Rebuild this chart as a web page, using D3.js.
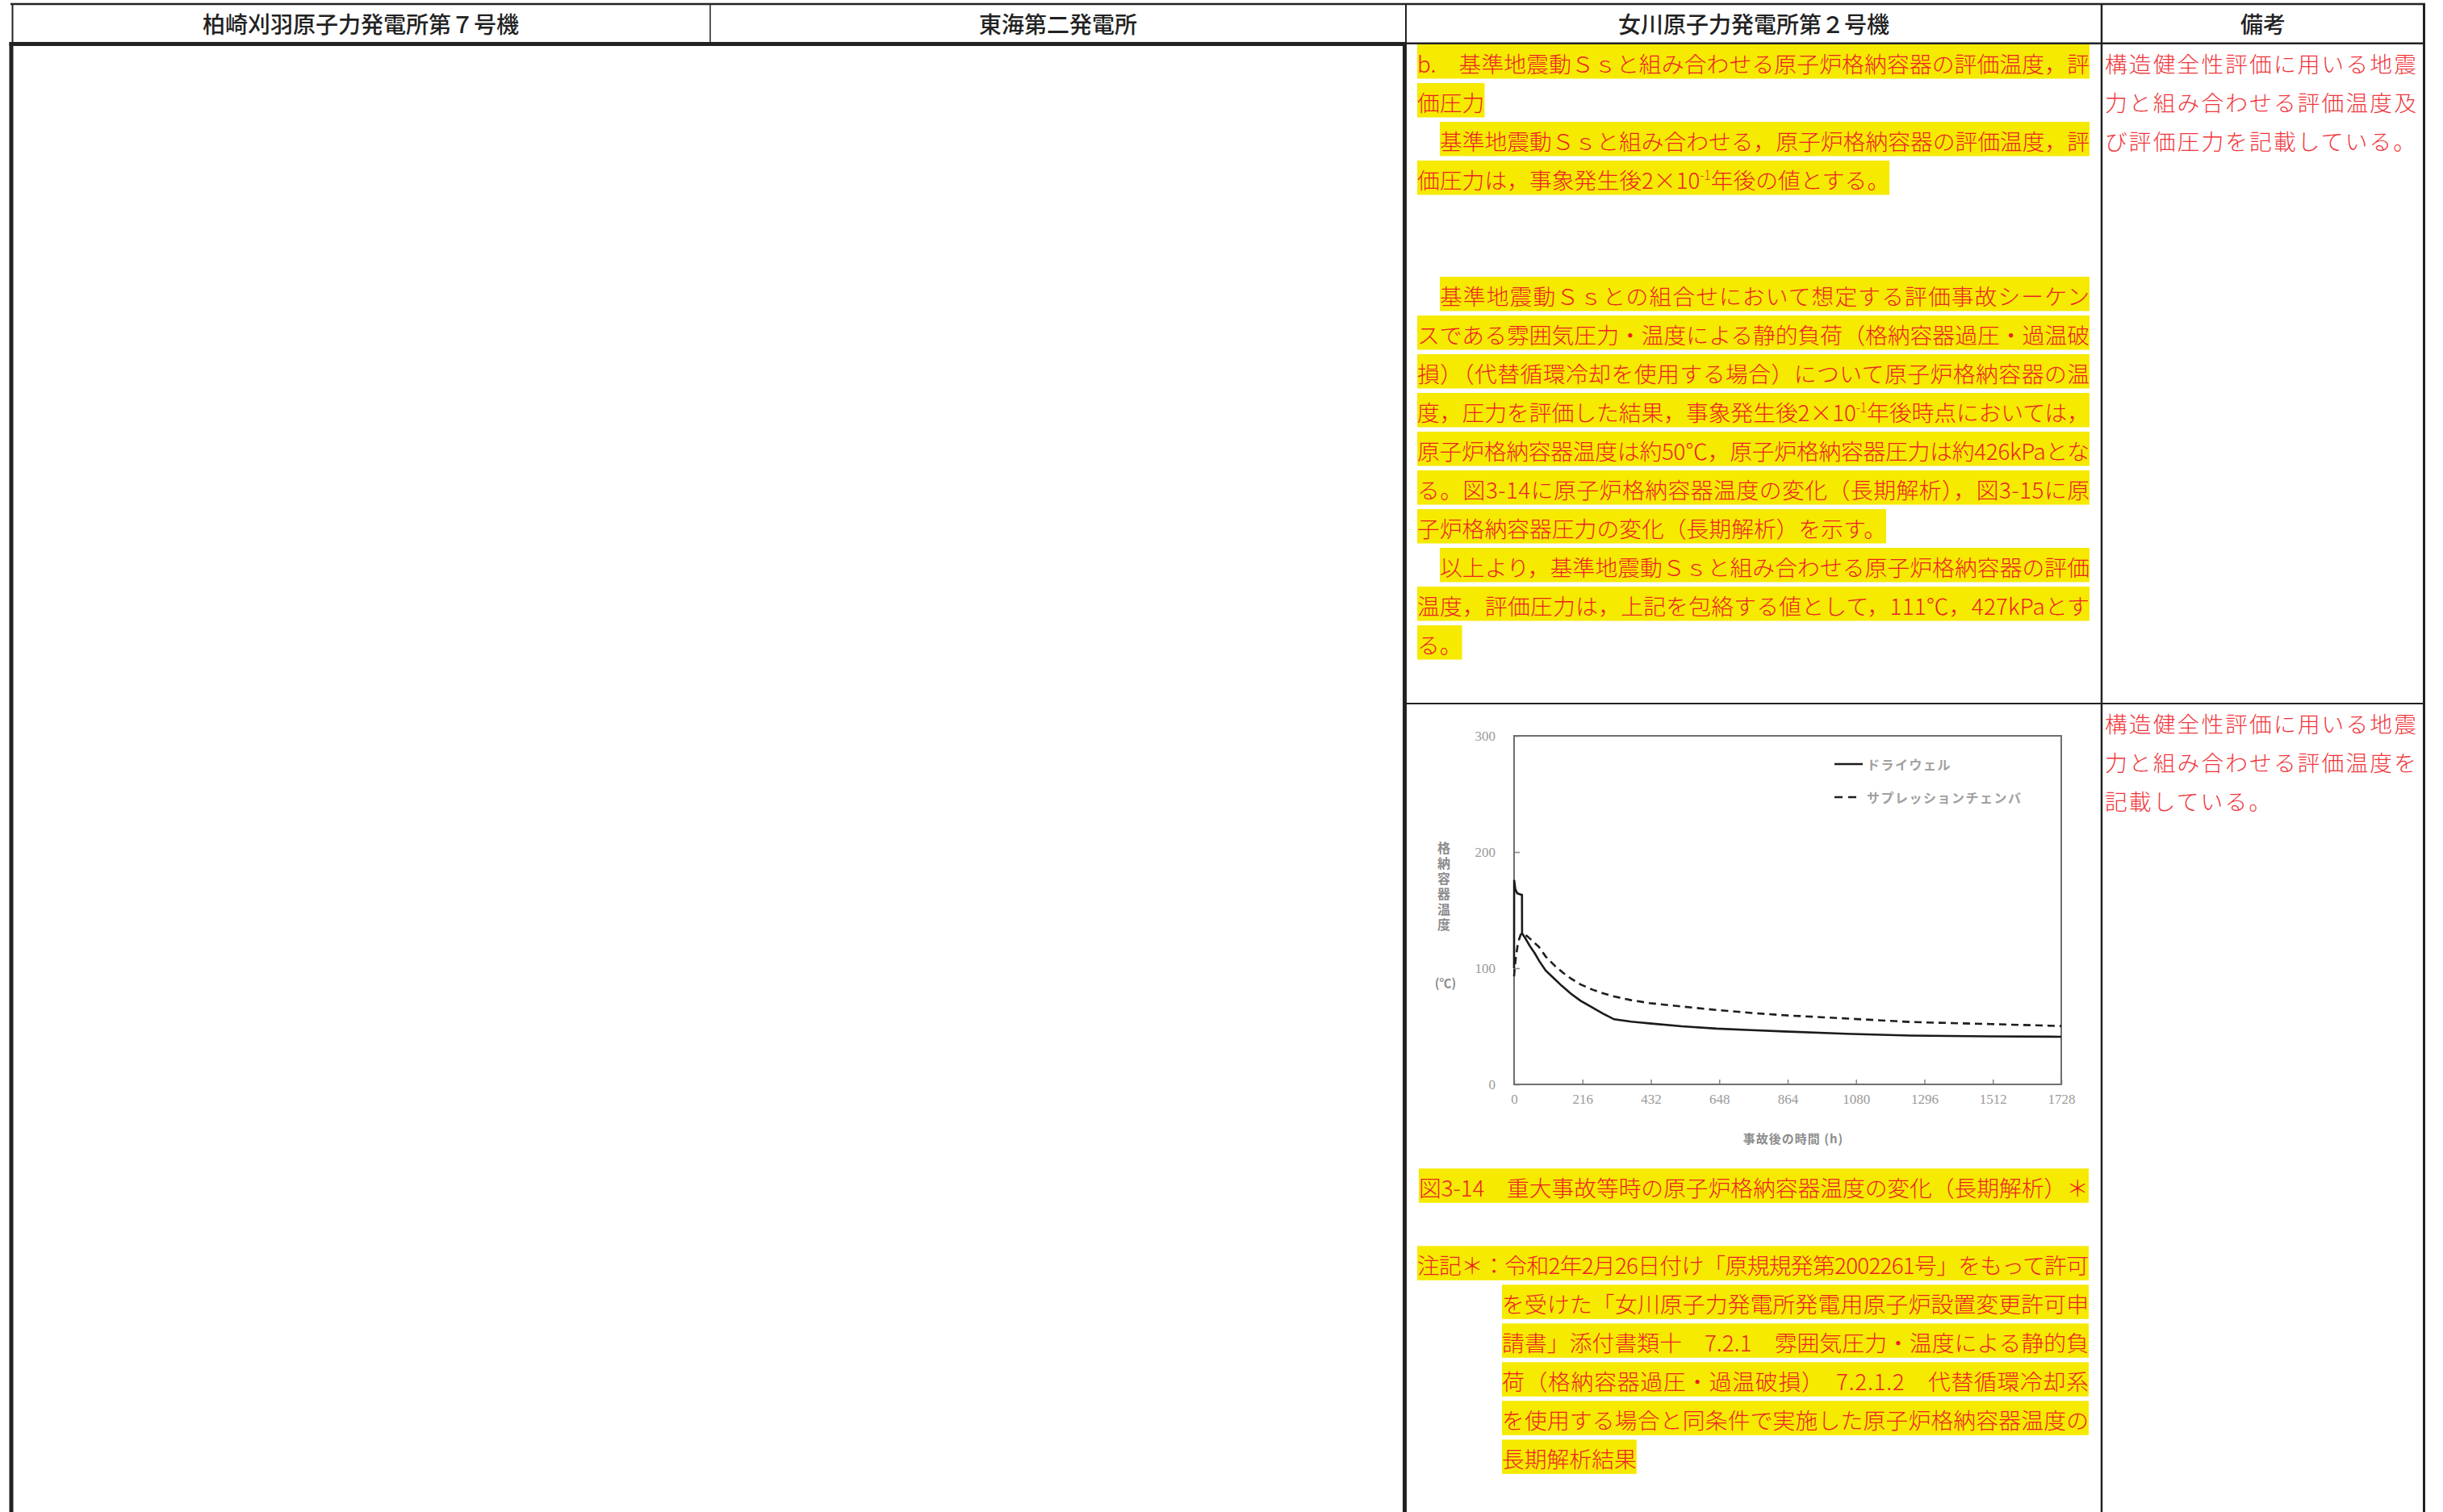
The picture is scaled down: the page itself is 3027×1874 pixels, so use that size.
<!DOCTYPE html>
<html><head><meta charset="utf-8">
<script src="https://cdn.jsdelivr.net/npm/d3@7"></script>
<style>html,body{margin:0;padding:0;background:#fff;}svg{display:block}</style>
</head><body>
<svg id="c" width="3027" height="1874"></svg>
<script>
// ---------------- data ----------------
const headerLabels = ["柏崎刈羽原子力発電所第７号機", "東海第二発電所", "女川原子力発電所第２号機", "備考"];

const xTicks = [0, 216, 432, 648, 864, 1080, 1296, 1512, 1728];
const yTicks = [0, 100, 200, 300];
const seriesNames = ["ドライウェル", "サプレッションチェンバ"];
const xTitle = "事故後の時間 (h)";
const yTitle = "格納容器温度";
const yUnit = "(℃)";

// drywell (solid)
const dwTime = [0, 0.3, 4, 10, 25, 25.3, 35, 50, 65, 80, 100, 125, 150, 180, 210, 248, 280, 316, 370, 427, 530, 640, 750, 852, 1030, 1251, 1500, 1728];
const dwTemp = [100, 176, 168, 164.5, 163, 130, 126, 119, 113, 106, 98, 91.5, 85, 78, 72, 66, 61, 56, 54, 52.5, 50, 48, 46.7, 45.6, 43.7, 42, 41.3, 41];
// suppression chamber (dashed)
const scTime = [0, 2, 6, 11, 16, 21, 30, 44, 60, 78, 100, 129, 155, 180, 210, 248, 280, 316, 370, 427, 530, 640, 750, 852, 1030, 1251, 1504, 1728];
const scTemp = [93, 100, 110, 119, 125, 129, 130, 127, 123, 118.5, 110, 102, 96, 91, 86, 81.5, 78.5, 75.7, 72.5, 70, 67, 64, 61.5, 59.5, 57, 53.7, 51.9, 50.2];

// text of column 3, row 1 (paragraphs; "" = blank line; leading "　" = indent)
const bodyParagraphs = [
  ["b.　基準地震動Ｓｓと組み合わせる原子炉格納容器の評価温度，評", "価圧力"],
  ["　基準地震動Ｓｓと組み合わせる，原子炉格納容器の評価温度，評", "価圧力は，事象発生後2×10^{-1}年後の値とする。"],
  [""], [""],
  ["　基準地震動Ｓｓとの組合せにおいて想定する評価事故シーケン",
   "スである雰囲気圧力・温度による静的負荷（格納容器過圧・過温破",
   "損）（代替循環冷却を使用する場合）について原子炉格納容器の温",
   "度，圧力を評価した結果，事象発生後2×10^{-1}年後時点においては，",
   "原子炉格納容器温度は約50℃，原子炉格納容器圧力は約426kPaとな",
   "る。図3-14に原子炉格納容器温度の変化（長期解析），図3-15に原",
   "子炉格納容器圧力の変化（長期解析）を示す。"],
  ["　以上より，基準地震動Ｓｓと組み合わせる原子炉格納容器の評価",
   "温度，評価圧力は，上記を包絡する値として，111℃，427kPaとす",
   "る。"]
];
const caption = "図3-14　重大事故等時の原子炉格納容器温度の変化（長期解析）＊";
const noteLabel = "注記＊：";
const noteLines = [
  "令和2年2月26日付け「原規規発第2002261号」をもって許可",
  "を受けた「女川原子力発電所発電用原子炉設置変更許可申",
  "請書」添付書類十　7.2.1　雰囲気圧力・温度による静的負",
  "荷（格納容器過圧・過温破損）　7.2.1.2　代替循環冷却系",
  "を使用する場合と同条件で実施した原子炉格納容器温度の",
  "長期解析結果"
];
const remarksRow1 = ["構造健全性評価に用いる地震", "力と組み合わせる評価温度及", "び評価圧力を記載している。"];
const remarksRow2 = ["構造健全性評価に用いる地震", "力と組み合わせる評価温度を", "記載している。"];

// ---------------- drawing ----------------
const JP = "'Noto Sans CJK JP','Noto Sans CJK SC',sans-serif";
const INK = "#222";
const RED = "#ec1f26";
const RED2 = "#f0353b";
const YEL = "#f6ea00";
const FS = 27.8;

const svg = d3.select("#c");
svg.append("rect").attr("width", 3027).attr("height", 1874).attr("fill", "#fff");
const hlLayer = svg.append("g");
const txtLayer = svg.append("g");
const gridLayer = svg.append("g");

function hline(x1, x2, yy, w) {
  gridLayer.append("line").attr("x1", x1).attr("x2", x2).attr("y1", yy).attr("y2", yy)
    .attr("stroke", INK).attr("stroke-width", w);
}
function vline(xx, y1, y2, w) {
  gridLayer.append("line").attr("x1", xx).attr("x2", xx).attr("y1", y1).attr("y2", y2)
    .attr("stroke", INK).attr("stroke-width", w);
}

// table grid
hline(13, 3005, 5, 2.5);
vline(15.5, 5, 54, 2);
vline(880, 5, 54, 1.5);
vline(1742, 5, 54, 2);
vline(2604, 5, 1874, 2.5);
vline(3003.5, 5, 1874, 3);
hline(1742, 3005, 53.8, 2.6);
hline(11.5, 1743, 54.5, 5);
vline(14, 52, 1874, 5);
vline(1740.5, 52, 1874, 5);
hline(1742, 3004, 872, 2.2);

// header labels
const headerCenters = [447, 1311, 2173, 2804];
headerLabels.forEach((s, i) => {
  txtLayer.append("text").attr("x", headerCenters[i]).attr("y", 40.5)
    .attr("text-anchor", "middle").attr("font-family", JP).attr("font-size", 28)
    .attr("font-weight", 500).attr("fill", INK).text(s);
});

// body text lines with yellow highlight
function fillText(t, str) {
  const parts = str.split(/\^\{(.*?)\}/);
  parts.forEach((p, k) => {
    if (!p) return;
    if (k % 2 === 1) {
      t.append("tspan").attr("baseline-shift", "super").attr("font-size", FS * 0.55).text(p);
    } else {
      t.append("tspan").text(p);
    }
  });
}
function drawLine(str, x0, top, xEnd, justify) {
  if (!str) return;
  let xs = x0;
  if (str.startsWith("　")) { xs = x0 + 28; str = str.slice(1); }
  const t = txtLayer.append("text").attr("x", xs).attr("y", top + 34.6)
    .attr("font-family", JP).attr("font-size", FS).attr("font-weight", 300).attr("fill", RED);
  fillText(t, str);
  let w;
  if (justify) {
    w = xEnd - xs;
    t.attr("textLength", w).attr("lengthAdjust", "spacing");
  } else {
    w = t.node().getComputedTextLength();
  }
  hlLayer.append("rect").attr("x", xs).attr("y", top).attr("width", w).attr("height", 42.5).attr("fill", YEL);
}

const TX0 = 1756, TX1 = 2589, PITCH = 48;
let lineIdx = 0;
bodyParagraphs.forEach(par => {
  par.forEach((s, k) => {
    drawLine(s, TX0, 55 + PITCH * lineIdx, TX1, k < par.length - 1);
    lineIdx++;
  });
});

// caption and notes
drawLine(caption, 1758, 1448.3, 2588, true);
noteLines.forEach((s, k) => {
  if (k === 0) drawLine(noteLabel + s, TX0, 1544.3, 2588, true);
  else drawLine(s, 1861, 1544.3 + PITCH * k, 2588, k < noteLines.length - 1);
});

// remarks column
function drawRemarks(lines, firstCenter) {
  lines.forEach((s, k) => {
    txtLayer.append("text").attr("x", 2608).attr("y", firstCenter + PITCH * k + 0.38 * FS)
      .attr("font-family", JP).attr("font-size", FS).attr("font-weight", 300).attr("letter-spacing", 2.05)
      .attr("fill", RED2).text(s);
  });
}
drawRemarks(remarksRow1, 79);
drawRemarks(remarksRow2, 897);

// ---------------- chart ----------------
const x = d3.scaleLinear().domain([0, 1728]).range([1876, 2554]);
const y = d3.scaleLinear().domain([0, 300]).range([1344, 912]);
const g = svg.append("g");
const GRAY = "#8c8c8c";

const xa = g.append("g").attr("transform", "translate(0,1344)")
  .call(d3.axisBottom(x).tickValues(xTicks).tickFormat(d3.format("d")).tickSizeInner(-6).tickSizeOuter(0).tickPadding(12));
const ya = g.append("g").attr("transform", "translate(1876,0)")
  .call(d3.axisLeft(y).tickValues(yTicks).tickFormat(d3.format("d")).tickSizeInner(-7).tickSizeOuter(0).tickPadding(23));
[xa, ya].forEach(a => {
  a.select(".domain").remove();
  a.attr("color", GRAY).attr("font-family", "'Liberation Serif',serif").attr("font-size", 17);
  a.selectAll(".tick line").attr("stroke-width", 1.6);
  a.selectAll(".tick text").attr("fill", "#9a9a9a");
});

g.append("rect").attr("x", x(0)).attr("y", y(300)).attr("width", x(1728) - x(0)).attr("height", y(0) - y(300))
  .attr("fill", "none").attr("stroke", "#707070").attr("stroke-width", 2);

const line = d3.line().x(d => x(d[0])).y(d => y(d[1]));
g.append("path").datum(d3.zip(scTime, scTemp)).attr("d", line).attr("fill", "none")
  .attr("stroke", "#1e1e1e").attr("stroke-width", 2.6).attr("stroke-dasharray", "9,6");
g.append("path").datum(d3.zip(dwTime, dwTemp)).attr("d", line).attr("fill", "none")
  .attr("stroke", "#1a1a1a").attr("stroke-width", 2.6);

// legend
g.append("line").attr("x1", 2273).attr("x2", 2308).attr("y1", 947).attr("y2", 947)
  .attr("stroke", "#1a1a1a").attr("stroke-width", 2.6);
g.append("line").attr("x1", 2273).attr("x2", 2301).attr("y1", 988).attr("y2", 988)
  .attr("stroke", "#1e1e1e").attr("stroke-width", 2.6).attr("stroke-dasharray", "10,7");
[947, 988].forEach((yy, i) => {
  g.append("text").attr("x", 2313).attr("y", yy).attr("dominant-baseline", "central")
    .attr("font-family", JP).attr("font-size", 16).attr("font-weight", 700).attr("letter-spacing", 1.5)
    .attr("fill", "#a0a0a0").text(seriesNames[i]);
});

// axis titles
g.append("text").attr("x", 1789).attr("y", 1043).style("writing-mode", "vertical-rl")
  .attr("font-family", JP).attr("font-size", 16).attr("font-weight", 700).attr("letter-spacing", 3)
  .attr("fill", GRAY).text(yTitle);
g.append("text").attr("x", 1791).attr("y", 1217).attr("text-anchor", "middle").attr("dominant-baseline", "central")
  .attr("font-family", JP).attr("font-size", 15).attr("font-weight", 700).attr("fill", GRAY).text(yUnit);
g.append("text").attr("x", 2222).attr("y", 1410).attr("text-anchor", "middle").attr("dominant-baseline", "central")
  .attr("font-family", JP).attr("font-size", 15).attr("font-weight", 700).attr("letter-spacing", 1)
  .attr("fill", GRAY).text(xTitle);
</script>
</body></html>
